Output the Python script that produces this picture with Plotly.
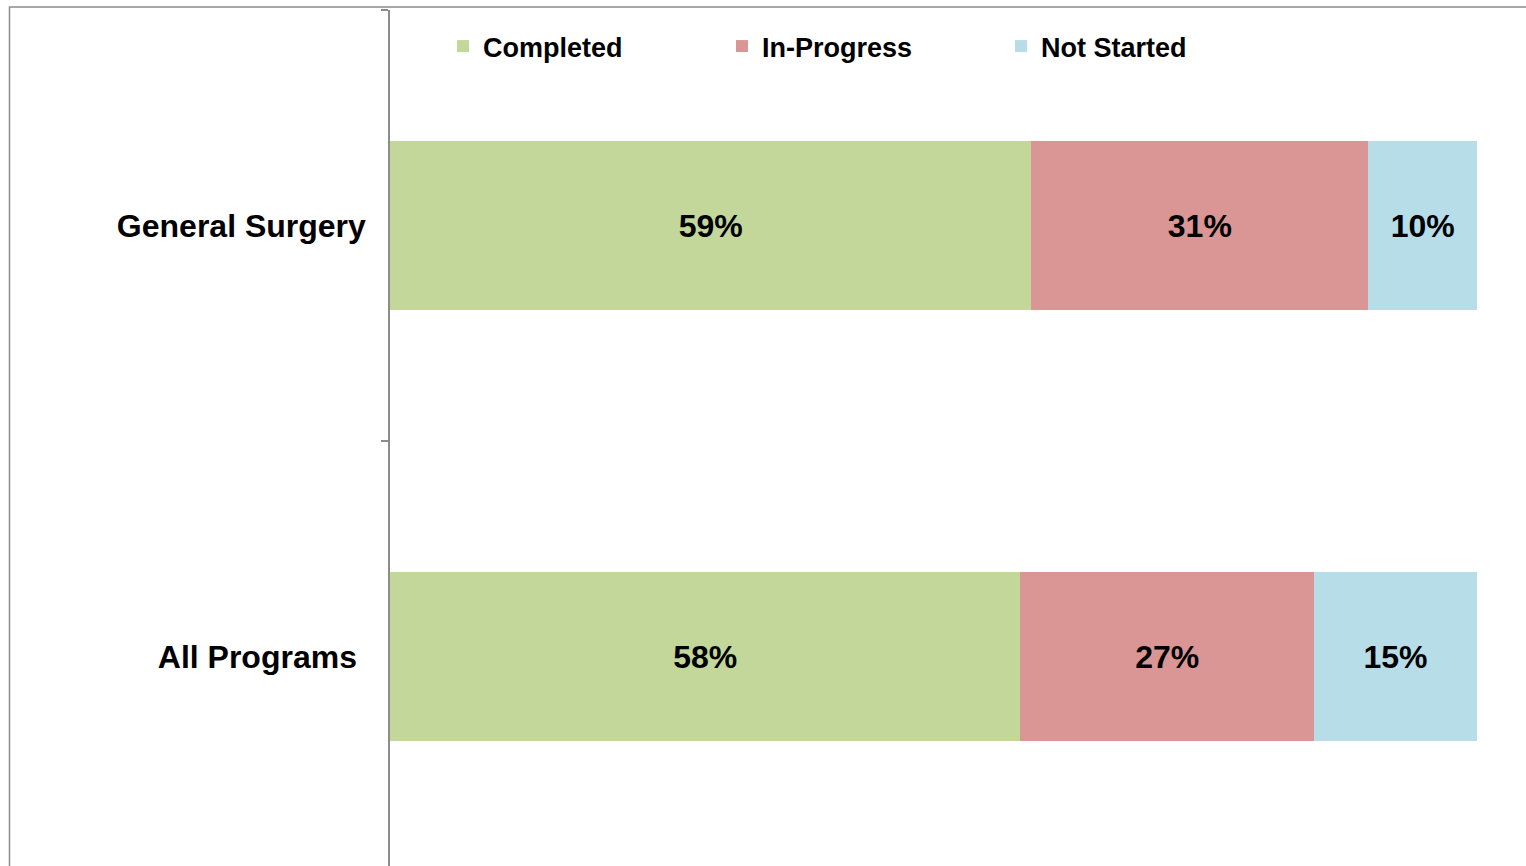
import plotly.graph_objects as go

categories = ["All Programs", "General Surgery"]
tick_labels = ["All Programs\u00a0", "General Surgery"]
series_names = ["Completed", "In-Progress", "Not Started"]
completed = [58, 59]
in_progress = [27, 31]
not_started = [15, 10]
colors = ["#C4D79B", "#DA9694", "#B7DEE8"]

W, H = 1526, 866
L, R, T, B = 390, 49, 10, 0
pw, ph = W - L - R, H - T - B

fig = go.Figure()
for name, vals, col in zip(series_names, [completed, in_progress, not_started], colors):
    fig.add_trace(go.Bar(
        y=categories, x=vals, name=name, orientation="h",
        marker=dict(color=col, line=dict(width=0)),
        text=[f"{v}%" for v in vals], textposition="inside",
        insidetextanchor="middle",
        textfont=dict(family="Liberation Sans", size=32, color="black", weight="bold"),
        cliponaxis=False,
    ))

def px_x(p):
    return (p - L) / pw
def px_y(p):
    return 1 - (p - T) / ph

# frame around the chart (extends beyond the visible window)
fig.add_shape(type="rect", xref="paper", yref="paper",
              x0=px_x(9.5), x1=px_x(1600), y0=px_y(7), y1=px_y(900),
              line=dict(color="#8C8C8C", width=1.5), fillcolor="rgba(0,0,0,0)", layer="below")

cat_px = 431.0
y_bottom = 1.5 - (H - T) / cat_px

fig.update_layout(
    width=W, height=H,
    margin=dict(l=L, r=R, t=T, b=B, pad=0),
    barmode="stack", bargap=0.606,
    plot_bgcolor="white", paper_bgcolor="white",
    showlegend=True,
    legend=dict(orientation="h", x=px_x(443), xanchor="left", y=px_y(22), yanchor="top",
                font=dict(family="Liberation Sans", size=27, color="black", weight="bold"),
                traceorder="normal", entrywidth=234, entrywidthmode="pixels",
                bgcolor="rgba(0,0,0,0)"),
    xaxis=dict(range=[0, 100], showgrid=False, showline=False, showticklabels=False,
               zeroline=False, ticks="", fixedrange=True),
    yaxis=dict(type="category", range=[y_bottom, 1.5], showgrid=False,
               showline=True, linecolor="#8C8C8C", linewidth=1.5,
               ticks="outside", tickson="boundaries", ticklen=7, tickcolor="#8C8C8C",
               tickwidth=1.5, ticklabelstandoff=16,
               tickmode="array", tickvals=categories, ticktext=tick_labels,
               tickfont=dict(family="Liberation Sans", size=32, color="black", weight="bold"),
               zeroline=False),
)

fig.write_html("out.html", config={"displayModeBar": False},
               post_script="document.body.style.margin='0';")
